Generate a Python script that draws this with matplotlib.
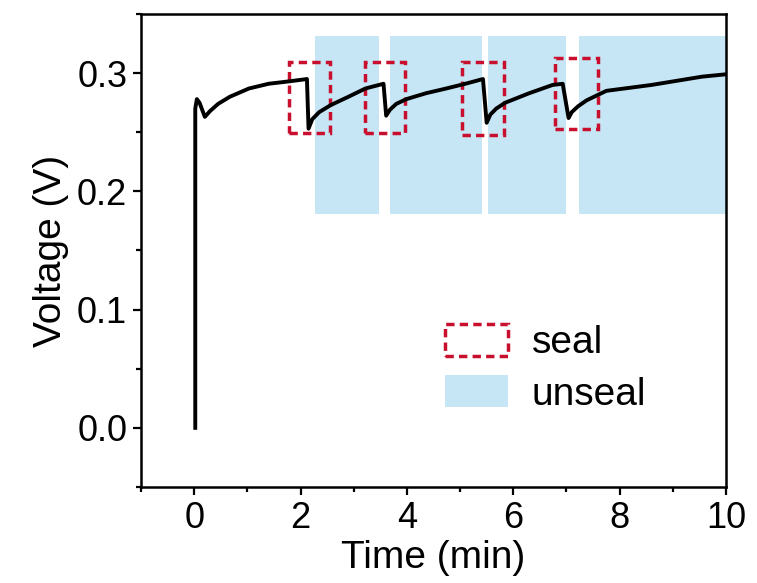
import matplotlib.pyplot as plt
from matplotlib.patches import Rectangle, Patch
from matplotlib.ticker import MultipleLocator

plt.rcParams['font.family'] = ['Liberation Sans', 'DejaVu Sans']

# кривая напряжения
time = [0.02, 0.02, 0.05, 0.1, 0.2, 0.3, 0.45, 0.67, 1.03, 1.4, 1.78, 2.12,
        2.15, 2.22, 2.35, 2.57, 2.9, 3.22, 3.56, 3.61, 3.68, 3.8, 3.99,
        4.36, 4.74, 5.1, 5.43, 5.5, 5.57, 5.68, 5.85, 6.3, 6.74, 6.93, 7.04,
        7.1, 7.22, 7.38, 7.75, 8.6, 9.55, 10.0]
voltage = [0.0, 0.27, 0.278, 0.275, 0.263, 0.268, 0.274, 0.280, 0.287, 0.291,
           0.293, 0.295, 0.253, 0.261, 0.267, 0.273, 0.280, 0.287, 0.291,
           0.264, 0.269, 0.274, 0.278, 0.283, 0.287, 0.291, 0.295, 0.258,
           0.265, 0.270, 0.275, 0.283, 0.290, 0.291, 0.262, 0.267, 0.272,
           0.277, 0.285, 0.290, 0.297, 0.299]

# участки "unseal" (голубые)
unsealStart = [2.27, 3.69, 5.52, 7.23]
unsealEnd = [3.48, 5.41, 7.0, 10.0]
unsealBottom = 0.181
unsealTop = 0.331

# участки "seal" (красные пунктирные рамки)
sealLeft = [1.78, 3.22, 5.04, 6.78]
sealRight = [2.55, 3.97, 5.82, 7.60]
sealBottom = [0.249, 0.249, 0.248, 0.253]
sealTop = [0.309, 0.309, 0.309, 0.313]

blue = '#c6e6f6'
red = '#c8102e'
dash = (0, (2.4, 1.5))

fig = plt.figure(figsize=(7.57, 5.83), dpi=100)
ax = fig.add_subplot(1, 1, 1)
fig.subplots_adjust(left=0.1863, right=0.959, top=0.976, bottom=0.1647)

for x0, x1 in zip(unsealStart, unsealEnd):
    ax.add_patch(Rectangle((x0, unsealBottom), x1 - x0, unsealTop - unsealBottom,
                           facecolor=blue, edgecolor='none', zorder=1))

for x0, x1, y0, y1 in zip(sealLeft, sealRight, sealBottom, sealTop):
    ax.add_patch(Rectangle((x0, y0), x1 - x0, y1 - y0, facecolor='none',
                           edgecolor=red, linestyle=dash, linewidth=2.5,
                           zorder=2))

ax.plot(time, voltage, color='black', linewidth=2.8, zorder=3)

ax.set_xlim(-1, 10)
ax.set_ylim(-0.05, 0.35)
ax.xaxis.set_major_locator(MultipleLocator(2))
ax.xaxis.set_minor_locator(MultipleLocator(1))
ax.yaxis.set_minor_locator(MultipleLocator(0.05))
ax.set_yticks([0.0, 0.1, 0.2, 0.3])
ax.set_yticklabels(['0.0', '0.1', '0.2', '0.3'])

for s in ax.spines.values():
    s.set_linewidth(1.8)
ax.tick_params(which='major', direction='out', length=6, width=1.6,
               labelsize=26, pad=4)
ax.tick_params(which='minor', direction='out', length=3.5, width=1.6)

ax.set_xlabel('Time (min)', fontsize=28, labelpad=3)
ax.set_ylabel('Voltage (V)', fontsize=28, labelpad=6)

handles = [Patch(facecolor='none', edgecolor=red, linestyle=dash,
                 linewidth=2.5, label='seal'),
           Patch(facecolor=blue, edgecolor='none', label='unseal')]
ax.legend(handles=handles, loc='upper left', bbox_to_anchor=(0.52, 0.345),
          frameon=False, fontsize=28, handlelength=1.62, handleheight=0.9,
          handletextpad=0.6, labelspacing=0.35, borderpad=0, borderaxespad=0)

fig.savefig('out.png', dpi=100)
